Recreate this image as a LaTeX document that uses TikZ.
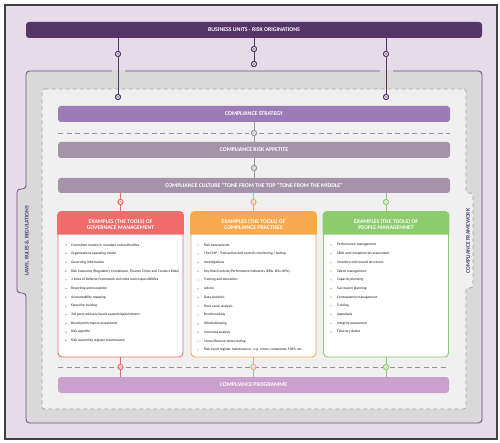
\documentclass[tikz,border=0pt]{standalone}
\usepackage{fontspec}
\setmainfont{Carlito}
\definecolor{lav}{HTML}{E6DBE9}
\definecolor{obord}{HTML}{404040}
\definecolor{bucol}{HTML}{553468}
\definecolor{frame}{HTML}{D9D9D9}
\definecolor{fbord}{HTML}{6B4F7F}
\definecolor{inner}{HTML}{F0F0F0}
\definecolor{idash}{HTML}{A79DAF}
\definecolor{strat}{HTML}{9C7CB6}
\definecolor{mauve}{HTML}{A593AA}
\definecolor{coral}{HTML}{F26B6B}
\definecolor{orng}{HTML}{FAAA4C}
\definecolor{grn}{HTML}{8DCB6F}
\definecolor{prog}{HTML}{C9A1CC}
\definecolor{gcon}{HTML}{9E8FA4}
\definecolor{sidetxt}{HTML}{4B3C78}
\definecolor{sdash}{HTML}{A28EB4}
\begin{document}
\begin{tikzpicture}[x=1pt,y=-1pt,
  bar/.style={rounded corners=3pt, minimum height=16pt, inner sep=0pt, text=white, font=\fontsize{5.8}{6.5}\selectfont\bfseries},
  dotc/.style={circle, draw=#1, fill=white, line width=0.9pt, minimum size=5pt, inner sep=0pt},
  dup/.style={dotc=#1, path picture={\draw[#1, line width=0.55pt] ([shift={(-1.1pt,-0.5pt)}]path picture bounding box.center) -- ([shift={(0pt,0.6pt)}]path picture bounding box.center) -- ([shift={(1.1pt,-0.5pt)}]path picture bounding box.center);}},
  ddown/.style={dotc=#1, path picture={\draw[#1, line width=0.55pt] ([shift={(-1.1pt,0.5pt)}]path picture bounding box.center) -- ([shift={(0pt,-0.6pt)}]path picture bounding box.center) -- ([shift={(1.1pt,0.5pt)}]path picture bounding box.center);}},
  toolbox/.style={draw=#1, fill=white, line width=0.9pt, rounded corners=4pt, minimum width=125pt, minimum height=145pt, inner sep=0pt},
  headtxt/.style={text=white, font=\fontsize{5.7}{6.6}\selectfont\bfseries, align=center},
  itm/.style={anchor=west, inner sep=0pt, text=black!90, font=\fontsize{3.6}{4}\selectfont},
  sidet/.style={rotate=90, text=sidetxt, font=\fontsize{5.6}{6.4}\selectfont\bfseries},
  con/.style={line width=0.9pt, draw=#1}
]
\useasboundingbox (0,0) rectangle (500,443);
% background
\draw[fill=lav, draw=obord, line width=1.2pt] (5,5) rectangle (497,439);
% gray frame with left tab
\draw[fill=frame, draw=fbord, line width=0.8pt, rounded corners=3.5pt]
  (26,189) -- (26,71) -- (482,71) -- (482,423) -- (26,423) -- (26,293) -- (17,293) -- (17,189) -- cycle;
\fill[frame] (112,70) rectangle (125,72.5);
\fill[frame] (380,70) rectangle (393,72.5);
% inner dashed box with right tab
\draw[fill=inner, draw=idash, line width=0.8pt, dash pattern=on 4pt off 3pt, rounded corners=2.5pt]
  (42,89) -- (466,89) -- (466,193) -- (473,193) -- (473,288) -- (466,288) -- (466,409) -- (42,409) -- cycle;
\node[sidet] (laws) at (27,241) {LAWS, RULES \& REGULATIONS};
\node[sidet] (cfw) at (468,241) {COMPLIANCE FRAMEWORK};

% business units
\node[bar, fill=bucol, minimum width=456pt] (bu) at (254,30) {BUSINESS UNITS - RISK ORIGINATIONS};
% strategy, appetite, culture
\node[bar, fill=strat, minimum width=392pt] (strat) at (254,114) {COMPLIANCE STRATEGY};
\node[bar, fill=mauve, minimum width=392pt] (app) at (254,150) {COMPLIANCE RISK APPETITE};
\node[bar, fill=mauve, minimum width=392pt, minimum height=15pt] (cult) at (254,185.5) {COMPLIANCE CULTURE "TONE FROM THE TOP "TONE FROM THE MIDDLE"};

% dashed separators
\draw[sdash, line width=0.8pt, dash pattern=on 5pt off 3.5pt] (58,133) -- (249,133);
\draw[sdash, line width=0.8pt, dash pattern=on 5pt off 3.5pt] (259,133) -- (450,133);

% connectors from business units
\node[dup=bucol] (l1) at (118,54) {};
\node[ddown=bucol] (l2) at (118,97) {};
\node[dup=bucol] (m1) at (254,49) {};
\node[ddown=bucol] (m2) at (254,64) {};
\node[dup=bucol] (r1) at (386,54) {};
\node[ddown=bucol] (r2) at (386,97) {};
\draw[con=bucol] (bu.south -| l1) -- (l1) -- (l2);
\draw[con=bucol] (bu.south -| m1) -- (m1) -- (m2);
\draw[con=bucol] (bu.south -| r1) -- (r1) -- (r2);
\node[dup=bucol] at (l1) {};
\node[ddown=bucol] at (l2) {};
\node[dup=bucol] at (m1) {};
\node[ddown=bucol] at (m2) {};
\node[dup=bucol] at (r1) {};
\node[ddown=bucol] at (r2) {};

% center gray connector
\node[dup=gcon] (c1) at (254,133) {};
\node[dup=gcon] (c2) at (254,168) {};
\draw[con=gcon] (strat.south) -- (c1) -- (app.north);
\draw[con=gcon] (app.south) -- (c2) -- (cult.north);
\node[dup=gcon] at (c1) {};
\node[dup=gcon] at (c2) {};

% tool boxes
\node[toolbox=coral] (gov) at (120.5,284.5) {};
\node[toolbox=orng] (prac) at (253.5,284.5) {};
\node[toolbox=grn] (ppl) at (386,284.5) {};
\foreach \b/\c in {gov/coral, prac/orng, ppl/grn}{
  \fill[\c, rounded corners=4pt] ([shift={(-0.45pt,-23pt)}]\b.north west) -- ([shift={(-0.45pt,0.45pt)}]\b.north west) -- ([shift={(0.45pt,0.45pt)}]\b.north east) [sharp corners] -- ([shift={(0.45pt,-23pt)}]\b.north east) -- cycle;
}
\node[headtxt] (govh) at (120.5,224.5) {EXAMPLES (THE TOOLS) OF\\GOVERNACE MANAGEMENT};
\node[headtxt] (prach) at (253.5,224.5) {EXAMPLES (THE TOOLS) OF\\COMPLIANCE PRACTISES};
\node[headtxt] (pplh) at (386,224.5) {EXAMPLES (THE TOOLS) OF\\PEOPLE MANAGEMNET};

\foreach \t [count=\i] in {{Committee structure, mandate and authorities},{Organisations operating model},{Governing information},{Risk Taxonomy (Regulatory Compliance, Finance Crime and Conduct Risks)},{3 Lines of Defense Framework and roles and responsibilities},{Reporting and escalation},{Accountability mapping},{Executive training},{3rd party advisory board support/appointment},{Board performance assessment},{Risk appetite},{Risk ownership register maintenance}}{
  \fill[coral] (66,{245+8.7*(\i-1)}) circle (0.75pt);
  \node[itm] (g\i) at (71,{245+8.7*(\i-1)}) {\t};
}
\foreach \t [count=\i] in {{Risk Assessments},{The CMP - Transaction and controls monitoring / testing},{Investigations},{Key Risk/Controls/Performance Indicators (KRIs, KCIs, KPIs)},{Training and education},{Advice},{Data analytics},{Root cause analysis},{Benchmarking},{Whistleblowing},{Scenarios analysis},{Stress/Reverse stress testing},{Risk event register maintenance - e.g. errors, complaints, FOPS, etc.}}{
  \fill[orng] (198,{245+8.75*(\i-1)}) circle (0.75pt);
  \node[itm] (p\i) at (204,{245+8.75*(\i-1)}) {\t};
}
\foreach \t [count=\i] in {{Performance management},{Skills and competencies assessment},{Incentive and reward structures},{Talent management},{Capacity planning},{Succession planning},{Consequence management},{Training},{Appraisals},{Integrity assessment},{Fiduciary duties}}{
  \fill[grn] (331,{245+8.7*(\i-1)}) circle (0.75pt);
  \node[itm] (q\i) at (337,{245+8.7*(\i-1)}) {\t};
}

% connectors culture -> boxes
\node[dup=coral] (cg) at (120.5,202) {};
\node[dup=orng] (cp) at (253.5,202) {};
\node[dup=grn] (cq) at (386,202) {};
\draw[con=coral] (cult.south -| gov) -- (cg) -- (gov.north);
\draw[con=orng] (cult.south -| prac) -- (cp) -- (prac.north);
\draw[con=grn] (cult.south -| ppl) -- (cq) -- (ppl.north);
\node[dup=coral] at (cg) {};
\node[dup=orng] at (cp) {};
\node[dup=grn] at (cq) {};

% programme
\node[bar, fill=prog, minimum width=391pt] (prg) at (253.5,385) {COMPLIANCE PROGRAMME};
\draw[idash!90!black, line width=0.8pt, dash pattern=on 5pt off 3.5pt] (58,367) -- (449,367);
\node[dup=coral] (bg) at (120.5,367) {};
\node[dup=orng] (bp) at (253.5,367) {};
\node[dup=grn] (bq) at (386,367) {};
\draw[con=coral] (gov.south) -- (bg) -- (prg.north -| gov);
\draw[con=orng] (prac.south) -- (bp) -- (prg.north -| prac);
\draw[con=grn] (ppl.south) -- (bq) -- (prg.north -| ppl);
\node[dup=coral] at (bg) {};
\node[dup=orng] at (bp) {};
\node[dup=grn] at (bq) {};
\end{tikzpicture}
\end{document}
